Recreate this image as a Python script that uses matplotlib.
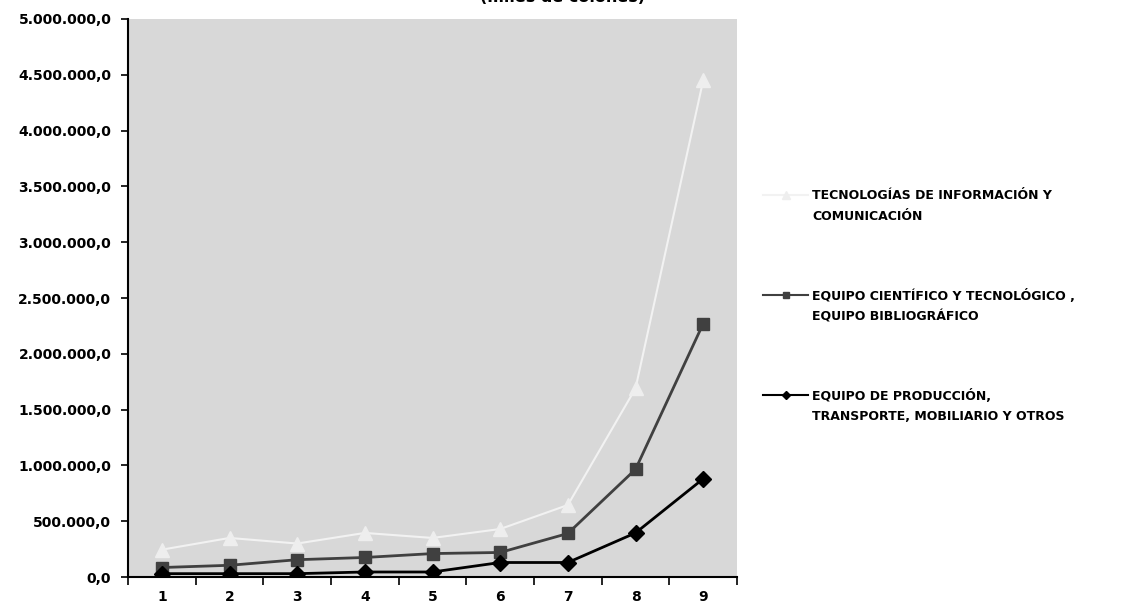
import matplotlib.pyplot as plt
from matplotlib.lines import Line2D
from matplotlib.ticker import FuncFormatter, MultipleLocator, FixedLocator

plt.rcParams['font.family'] = ['DejaVu Sans']

years = [1, 2, 3, 4, 5, 6, 7, 8, 9]
tic = [245000, 350000, 300000, 395000, 350000, 430000, 645000, 1690000, 4450000]
cientifico = [85000, 105000, 155000, 175000, 210000, 220000, 390000, 965000, 2270000]
produccion = [30000, 30000, 30000, 45000, 45000, 130000, 130000, 395000, 880000]

labels = ['TECNOLOGÍAS DE INFORMACIÓN Y\nCOMUNICACIÓN',
          'EQUIPO CIENTÍFICO Y TECNOLÓGICO ,\nEQUIPO BIBLIOGRÁFICO',
          'EQUIPO DE PRODUCCIÓN,\nTRANSPORTE, MOBILIARIO Y OTROS']

fig = plt.figure(figsize=(11.48, 6.03), dpi=100)
ax = fig.add_axes([0.1115, 0.0431, 0.5305, 0.9254])
ax.set_facecolor('#d8d8d8')

ax.plot(years, tic, color='#f2f2f2', lw=1.5, marker='^', ms=10, mec='#eeeeee', mfc='#eeeeee')
ax.plot(years, cientifico, color='#404040', lw=2, marker='s', ms=9, mec='#404040', mfc='#404040')
ax.plot(years, produccion, color='black', lw=2, marker='D', ms=8, mec='black', mfc='black')

ax.set_xlim(0.5, 9.5)
ax.set_ylim(0, 5000000)
ax.xaxis.set_major_locator(FixedLocator([x + 0.5 for x in range(10)]))
ax.xaxis.set_major_formatter(FuncFormatter(lambda v, p: ''))
ax.xaxis.set_minor_locator(FixedLocator(years))
ax.set_xticklabels([str(y) for y in years], minor=True)
ax.tick_params(axis='x', which='major', length=6, width=1.2, direction='out')
ax.tick_params(axis='x', which='minor', length=0, pad=9, labelsize=10)
ax.yaxis.set_major_locator(MultipleLocator(500000))


def fmt(v, p):
    s = '{:,.1f}'.format(v)
    return s.replace(',', 'X').replace('.', ',').replace('X', '.')


ax.yaxis.set_major_formatter(FuncFormatter(fmt))
ax.tick_params(axis='y', length=5, width=1.2, direction='out', labelsize=10, pad=7)
for lab in ax.get_xticklabels(minor=True) + ax.get_yticklabels():
    lab.set_fontweight('bold')

for s in ['top', 'right']:
    ax.spines[s].set_visible(False)
for s in ['left', 'bottom']:
    ax.spines[s].set_linewidth(1.5)

fig.text(0.49, 0.9967, '(miles de colones)', ha='center', va='baseline',
         fontsize=11.5, fontweight='bold')

# legend drawn by hand so the marker lines up with the first text line
styles = [dict(color='#f2f2f2', marker='^', mfc='#eeeeee', mec='#eeeeee', ms=6),
          dict(color='#404040', marker='s', mfc='#404040', mec='#404040', ms=5),
          dict(color='black', marker='D', mfc='black', mec='black', ms=4)]
rows = [195, 295, 395]
for st, lab, yp in zip(styles, labels, rows):
    yf = 1 - yp / 603
    fig.add_artist(Line2D([763 / 1148, 808 / 1148], [yf, yf], lw=1.5,
                          transform=fig.transFigure, color=st['color']))
    fig.add_artist(Line2D([785.5 / 1148], [yf], lw=0, marker=st['marker'], ms=st['ms'],
                          mfc=st['mfc'], mec=st['mec'], transform=fig.transFigure))
    fig.text(812 / 1148, yf + 6 / 603, lab, ha='left', va='top', fontsize=9,
             fontweight='bold', linespacing=1.75)

fig.savefig('out.png', dpi=100)
